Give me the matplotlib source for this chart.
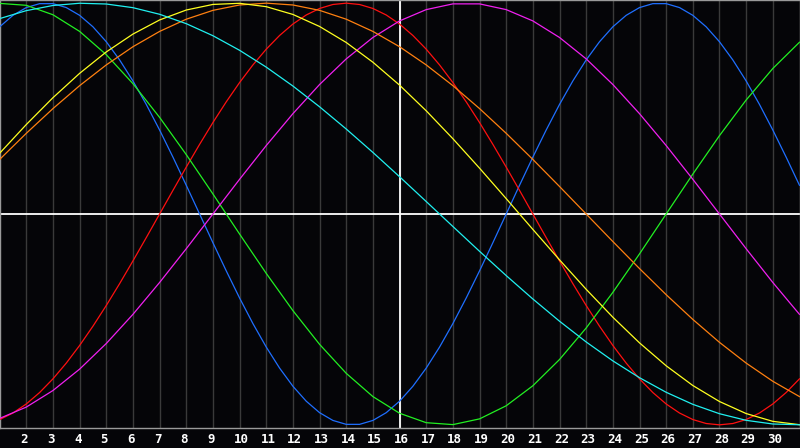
import numpy as np
import matplotlib
matplotlib.use('Agg')
import matplotlib.pyplot as plt

# x positions (days of the month)
days_half = np.arange(1, 31.5, 0.5)
days = np.arange(1, 32)
tick_days = list(range(2, 31))
today = 16

# values (-1 .. 1)
blue_vals = [0.8879, 0.9423, 0.9791, 0.9977, 0.9977, 0.9791, 0.9423, 0.8879, 0.8170, 0.7308,
             0.6311, 0.5197, 0.3984, 0.2698, 0.1362, 0.0,
             -0.1362, -0.2698, -0.3984, -0.5197, -0.6311, -0.7308, -0.8170, -0.8879, -0.9423, -0.9791,
             -0.9977, -0.9977, -0.9791, -0.9423, -0.8879, -0.8170, -0.7308, -0.6311, -0.5197, -0.3984,
             -0.2698, -0.1362, 0.0,
             0.1362, 0.2698, 0.3984, 0.5197, 0.6311, 0.7308, 0.8170, 0.8879, 0.9423, 0.9791, 0.9977,
             0.9977, 0.9791, 0.9423, 0.8879, 0.8170, 0.7308, 0.6311, 0.5197, 0.3984, 0.2698, 0.1362]
red_vals = [-0.9749, -0.9439, -0.9010, -0.8467, -0.7818, -0.7071, -0.6235, -0.5320, -0.4339, -0.3303,
            -0.2225, -0.1120, 0.0,
            0.1120, 0.2225, 0.3303, 0.4339, 0.5320, 0.6235, 0.7071, 0.7818, 0.8467, 0.9010, 0.9439,
            0.9749, 0.9937, 1.0, 0.9937, 0.9749, 0.9439, 0.9010, 0.8467, 0.7818, 0.7071, 0.6235,
            0.5320, 0.4339, 0.3303, 0.2225, 0.1120, 0.0,
            -0.1120, -0.2225, -0.3303, -0.4339, -0.5320, -0.6235, -0.7071, -0.7818, -0.8467, -0.9010,
            -0.9439, -0.9749, -0.9937, -1.0, -0.9937, -0.9749, -0.9439, -0.9010, -0.8467, -0.7818]
green_vals = [0.9989, 0.9898, 0.9450, 0.8660, 0.7557, 0.6182, 0.4582, 0.2817, 0.0951, -0.0951,
              -0.2817, -0.4582, -0.6182, -0.7557, -0.8660, -0.9450, -0.9898, -0.9989, -0.9718, -0.9096,
              -0.8146, -0.6901, -0.5406, -0.3717, -0.1893, 0.0, 0.1893, 0.3717, 0.5406, 0.6901, 0.8146]
magenta_vals = [-0.9694, -0.9158, -0.8372, -0.7357, -0.6142, -0.4759, -0.3247, -0.1646, 0.0, 0.1646,
                0.3247, 0.4759, 0.6142, 0.7357, 0.8372, 0.9158, 0.9694, 0.9966, 0.9966, 0.9694,
                0.9158, 0.8372, 0.7357, 0.6142, 0.4759, 0.3247, 0.1646, 0.0, -0.1646, -0.3247, -0.4759]
yellow_vals = [0.2881, 0.4244, 0.5517, 0.6671, 0.7687, 0.8534, 0.9204, 0.9675, 0.9940, 0.9993,
               0.9834, 0.9465, 0.8894, 0.8135, 0.7199, 0.6112, 0.4895, 0.3572, 0.2174, 0.0730,
               -0.0730, -0.2174, -0.3572, -0.4895, -0.6112, -0.7199, -0.8135, -0.8894, -0.9465, -0.9834, -0.9993]
orange_vals = [0.2588, 0.3827, 0.5, 0.6088, 0.7071, 0.7934, 0.8660, 0.9239, 0.9659, 0.9914,
               1.0, 0.9914, 0.9659, 0.9239, 0.8660, 0.7934, 0.7071, 0.6088, 0.5, 0.3827,
               0.2588, 0.1305, 0.0, -0.1305, -0.2588, -0.3827, -0.5, -0.6088, -0.7071, -0.7934, -0.8660]
cyan_vals = [0.9267, 0.9646, 0.9890, 0.9996, 0.9960, 0.9786, 0.9473, 0.9028, 0.8456, 0.7764,
             0.6966, 0.6069, 0.5085, 0.4031, 0.2921, 0.1769, 0.0592, -0.0592, -0.1769, -0.2921,
             -0.4031, -0.5085, -0.6069, -0.6966, -0.7764, -0.8456, -0.9028, -0.9473, -0.9786, -0.9960, -0.9996]

BG = '#050508'
GRID = '#3a3a3a'
FRAME = '#9a9a9a'

fig = plt.figure(figsize=(8, 4.48), dpi=100, facecolor=BG)
ax = fig.add_axes([0, 20 / 448, 1, 428 / 448], facecolor=BG)

for d in tick_days:
    ax.axvline(d, color=GRID, lw=1.0, zorder=1)
ax.axhline(0, color='white', lw=1.3, zorder=2)
ax.axvline(today, color='white', lw=1.3, zorder=2)

lw = 0.9
ax.plot(days_half, blue_vals, color='#1f6fff', lw=lw, zorder=3)
ax.plot(days_half, red_vals, color='#ff1010', lw=lw, zorder=3)
ax.plot(days, green_vals, color='#22f022', lw=lw, zorder=3)
ax.plot(days, magenta_vals, color='#f020f0', lw=lw, zorder=3)
ax.plot(days, orange_vals, color='#ff8010', lw=lw, zorder=3)
ax.plot(days, yellow_vals, color='#ffff20', lw=lw, zorder=3)
ax.plot(days, cyan_vals, color='#20f0f0', lw=lw, zorder=3)

ax.set_xlim(1.0135, 31.02)
ax.set_ylim(-1.015, 1.015)
ax.set_xticks([])
ax.set_yticks([])
for side in ('left', 'top', 'bottom', 'right'):
    ax.spines[side].set_color(FRAME)
    ax.spines[side].set_linewidth(1.0)

for d in tick_days:
    ax.text(d - 0.21, -0.026, str(d), transform=ax.get_xaxis_transform(),
            ha='left', va='center', color='white', fontsize=9,
            fontweight='bold', family='DejaVu Sans Mono', clip_on=False)

fig.savefig('out.png', dpi=100, facecolor=BG)
